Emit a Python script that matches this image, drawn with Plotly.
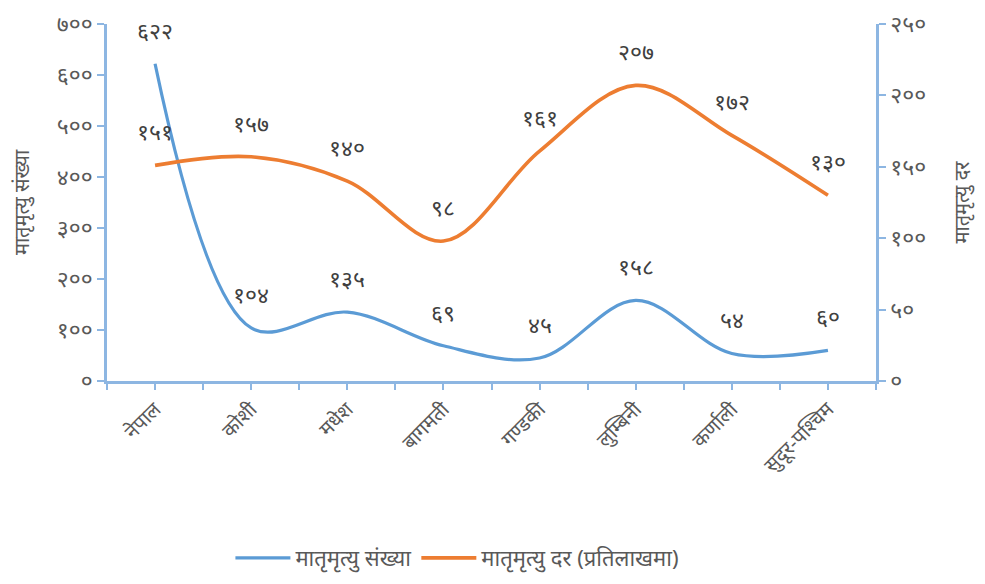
import plotly.graph_objects as go

categories = ["नेपाल", "कोशी", "मधेश", "बागमती", "गण्डकी", "लुम्बिनी", "कर्णाली", "सुदूर-पश्चिम"]
deaths = [622, 104, 135, 69, 45, 158, 54, 60]
rate = [151, 157, 140, 98, 161, 207, 172, 130]
deaths_labels = ["६२२", "१०४", "१३५", "६९", "४५", "१५८", "५४", "६०"]
rate_labels = ["१५१", "१५७", "१४०", "९८", "१६१", "२०७", "१७२", "१३०"]
left_ticks = [0, 100, 200, 300, 400, 500, 600, 700]
left_ticktext = ["०", "१००", "२००", "३००", "४००", "५००", "६००", "७००"]
right_ticks = [0, 50, 100, 150, 200, 250]
right_ticktext = ["०", "५०", "१००", "१५०", "२००", "२५०"]

BLUE = "#5B9BD5"
ORANGE = "#ED7D31"
AXIS = "#8DB6E2"
GREY = "#595959"
FONT = "Noto Sans, Lato, sans-serif"

xs = list(range(len(categories)))

fig = go.Figure()
fig.add_trace(go.Scatter(x=xs, y=deaths, name="मातृमृत्यु संख्या", mode="lines",
                         line=dict(color=BLUE, width=3.2, shape="spline", smoothing=1.0),
                         yaxis="y"))
fig.add_trace(go.Scatter(x=xs, y=rate, name="मातृमृत्यु दर (प्रतिलाखमा)", mode="lines",
                         line=dict(color=ORANGE, width=3.6, shape="spline", smoothing=1.0),
                         yaxis="y2"))

annotations = []
for i, (v, t) in enumerate(zip(deaths, deaths_labels)):
    annotations.append(dict(x=i, y=v, xref="x", yref="y", text=t, showarrow=False,
                            yshift=34, font=dict(size=23, color="#404040", family=FONT)))
for i, (v, t) in enumerate(zip(rate, rate_labels)):
    annotations.append(dict(x=i, y=v, xref="x", yref="y2", text=t, showarrow=False,
                            yshift=34, font=dict(size=23, color="#404040", family=FONT)))

fig.update_layout(
    width=977, height=576,
    margin=dict(l=99, r=109, t=16, b=203, autoexpand=False),
    paper_bgcolor="white", plot_bgcolor="white",
    font=dict(family=FONT, color=GREY, size=18),
    showlegend=True,
    legend=dict(orientation="h", x=0.46, xanchor="center", xref="container",
                y=0.045, yanchor="middle", yref="container",
                font=dict(size=22, color=GREY), itemwidth=55),
    annotations=annotations,
    xaxis=dict(range=[-0.5, 7.5], tickmode="array", tickvals=xs, ticktext=categories,
               tickangle=-45, showgrid=False, zeroline=False, automargin=False,
               showline=True, linecolor=AXIS, linewidth=2.5,
               ticks="outside", tickcolor=AXIS, ticklen=6, tickwidth=2,
               minor=dict(dtick=0.5, tick0=-0.5, ticks="outside", ticklen=6, tickcolor=AXIS, tickwidth=2),
               tickfont=dict(size=20, color=GREY), ticklabeloverflow="allow"),
    yaxis=dict(range=[0, 700], tickmode="array", tickvals=left_ticks, ticktext=left_ticktext,
               showgrid=False, zeroline=False, showline=True, linecolor=AXIS, linewidth=2.5,
               automargin=False, ticklabeloverflow="allow",
               ticks="outside", tickcolor=AXIS, ticklen=7, tickwidth=2,
               tickfont=dict(size=23, color=GREY),
               title=dict(text="मातृमृत्यु संख्या", font=dict(size=20, color=GREY), standoff=30)),
    yaxis2=dict(range=[0, 250], tickmode="array", tickvals=right_ticks, ticktext=right_ticktext,
                overlaying="y", side="right", automargin=False, ticklabeloverflow="allow",
                showgrid=False, zeroline=False, showline=True, linecolor=AXIS, linewidth=2.5,
                ticks="outside", tickcolor=AXIS, ticklen=7, tickwidth=2,
                tickfont=dict(size=23, color=GREY),
                title=dict(text="मातृमृत्यु दर", font=dict(size=20, color=GREY), standoff=30)),
)

fig.write_html("out.html")
